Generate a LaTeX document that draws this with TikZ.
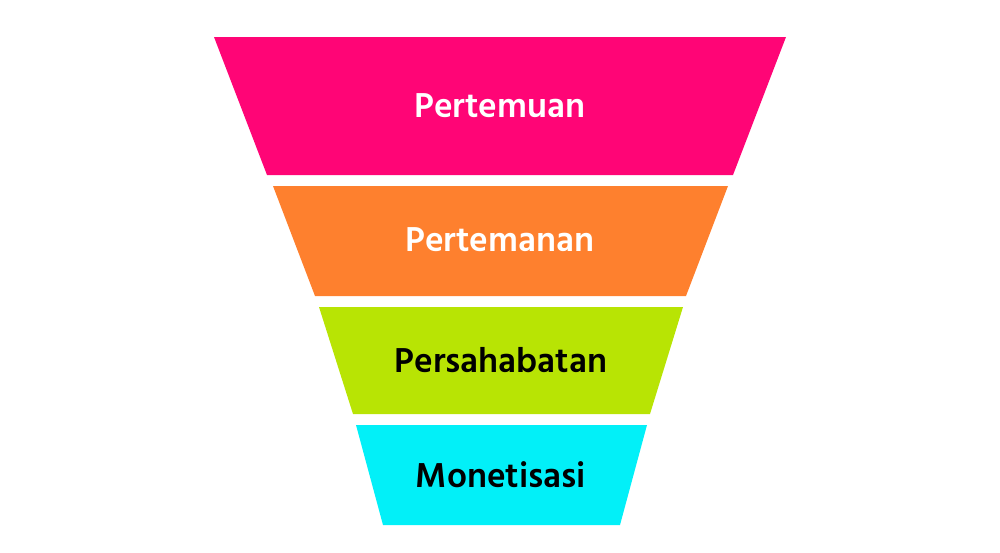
\documentclass[tikz,border=0pt]{standalone}
\usepackage{tikz}
\usepackage{xcolor}
\usepackage{fontspec}
\setmainfont{Hind Siliguri}

\definecolor{funnelpink}{RGB}{255,5,118}
\definecolor{funnelorange}{RGB}{254,128,46}
\definecolor{funnelgreen}{RGB}{184,228,4}
\definecolor{funnelcyan}{RGB}{2,240,248}

\begin{document}
\begin{tikzpicture}[x=0.75pt,y=-0.75pt,
    label/.style={font=\fontsize{26.6}{28}\selectfont\bfseries}]
    \useasboundingbox (0,0) rectangle (1000,553);

    \fill[funnelpink] (214,37) -- (786,37) -- (733,175) -- (267,175) -- cycle;
    \fill[funnelorange] (273,186) -- (728,186) -- (686,296) -- (315,296) -- cycle;
    \fill[funnelgreen] (319,307) -- (683,307) -- (650,414) -- (353,414) -- cycle;
    \fill[funnelcyan] (356,425) -- (647,425) -- (620,525) -- (383,525) -- cycle;

    \node[label,white] (meet) at (500,106) {Pertemuan};
    \node[label,white] (friend) at (500,240) {Pertemanan};
    \node[label,black] (bestfriend) at (501,360) {Persahabatan};
    \node[label,black] (money) at (501,475) {Monetisasi};
\end{tikzpicture}
\end{document}
